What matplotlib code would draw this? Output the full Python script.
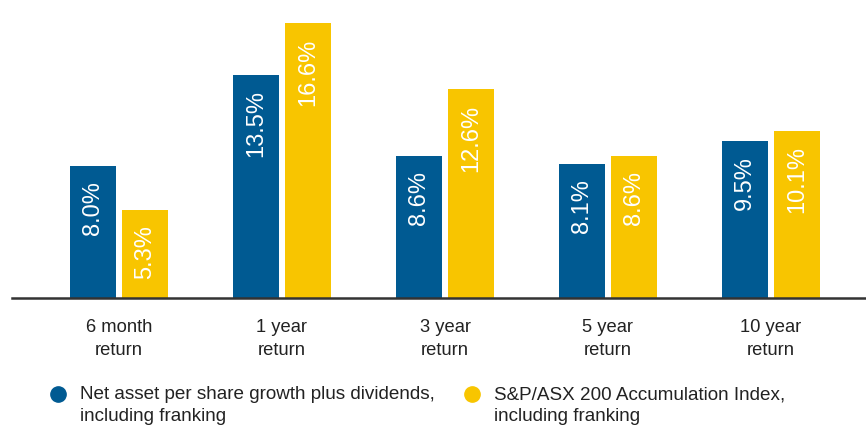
import matplotlib

matplotlib.use("Agg")

import matplotlib.pyplot as plt
import numpy as np
from matplotlib.lines import Line2D

plt.rcParams["font.family"] = ["Liberation Sans", "DejaVu Sans"]

categories = ["6 month\nreturn", "1 year\nreturn", "3 year\nreturn", "5 year\nreturn", "10 year\nreturn"]
nav_growth = [8.0, 13.5, 8.6, 8.1, 9.5]
index_return = [5.3, 16.6, 12.6, 8.6, 10.1]
series_names = [
    "Net asset per share growth plus dividends,\nincluding franking",
    "S&P/ASX 200 Accumulation Index,\nincluding franking",
]

BLUE = "#005a92"
YELLOW = "#f8c500"

W, H = 866, 426
fig = plt.figure(figsize=(W / 100, H / 100), dpi=100)
ax = fig.add_axes([12 / W, (H - 298) / H, (W - 12) / W, 298 / H])

x = np.arange(len(categories))
bar_w = 46 / 163
offset = 26 / 163

bars_a = ax.bar(x - offset, nav_growth, width=bar_w, color=BLUE)
bars_b = ax.bar(x + offset, index_return, width=bar_w, color=YELLOW)

for bars, values in ((bars_a, nav_growth), (bars_b, index_return)):
    for bar, val in zip(bars, values):
        ax.annotate(
            f"{val:.1f}%",
            (bar.get_x() + bar.get_width() / 2, val),
            xytext=(0, -11),
            textcoords="offset points",
            rotation=90,
            ha="center",
            va="top",
            color="white",
            fontsize=17,
        )

ax.set_xlim(-107 / 163, 4 + 95 / 163)
ax.set_ylim(0, 298 / 16.55)
ax.set_xticks(x)
ax.set_xticklabels(categories, fontsize=13.2, linespacing=1.45, color="#222222")
ax.tick_params(axis="x", length=0, pad=15)
ax.set_yticks([])
for side in ("top", "right", "left"):
    ax.spines[side].set_visible(False)
ax.spines["bottom"].set_color("#333333")
ax.spines["bottom"].set_linewidth(1.8)

# legend drawn by hand so the two entries sit where the reference has them
for (mx, tx), color, name in zip(((58, 80), (472, 494)), (BLUE, YELLOW), series_names):
    fig.add_artist(
        Line2D([mx / W], [1 - 394 / H], marker="o", markersize=11,
               color=color, linestyle="none", transform=fig.transFigure)
    )
    fig.text(tx / W, 1 - 386 / H, name, fontsize=13.6, va="top", ha="left",
             linespacing=1.35, color="#222222")

fig.savefig("out.png", dpi=100)
